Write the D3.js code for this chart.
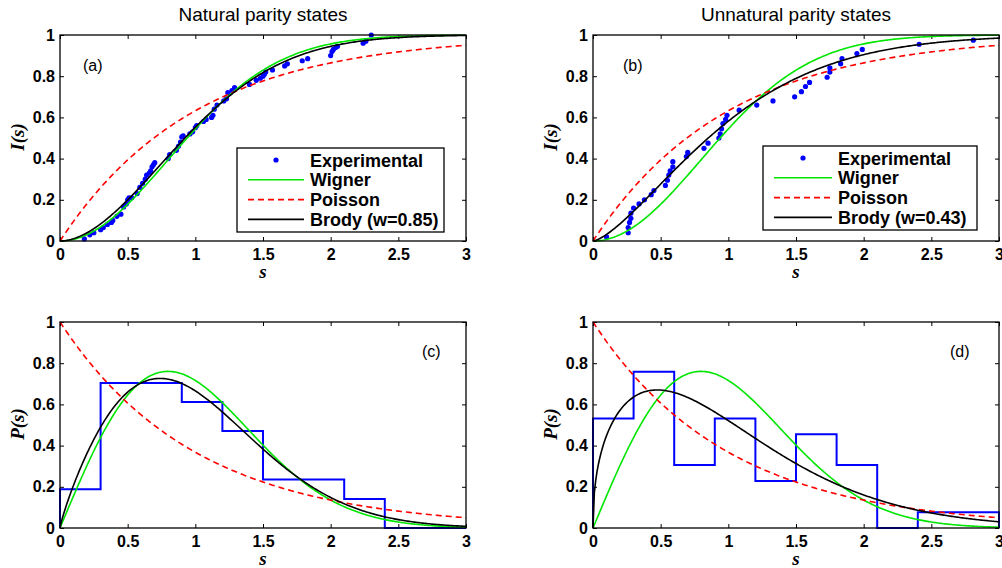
<!DOCTYPE html>
<html lang="en">
<head>
<meta charset="UTF-8">
<title>Level spacing distributions</title>
<style>
    body, html { margin: 0; padding: 0; background: #fff; overflow: hidden; }
    svg { display: block; }
    .tick text { font: bold 16px "Liberation Sans", Arial, sans-serif; fill: #000; }
    .tick line { stroke: #000; stroke-width: 1; }
    .frame { fill: none; stroke: #000; stroke-width: 1.3px; }
    .title { font: 19px "Liberation Sans", Arial, sans-serif; }
    .tag { font: 16px "Liberation Sans", Arial, sans-serif; }
    .axlabel { font: bold italic 19px "Liberation Serif", "Times New Roman", serif; }
    .legend text { font: bold 18px "Liberation Sans", Arial, sans-serif; }
</style>
</head>
<body>
<script src="https://cdnjs.cloudflare.com/ajax/libs/d3/7.8.5/d3.min.js"></script>
<script>
// ---- data ----
const xTicks = [0, 0.5, 1, 1.5, 2, 2.5, 3];
const yTicks = [0, 0.2, 0.4, 0.6, 0.8, 1];
const legendNames = ["Experimental", "Wigner", "Poisson"];

// Brody parameters fitted in each panel
const brodyNatural = 0.85;
const brodyUnnatural = 0.43;

// cumulative experimental spacings, natural parity (s, I)
const natS = [0.18, 0.22, 0.25, 0.30, 0.32, 0.35, 0.38, 0.39, 0.42, 0.45, 0.47, 0.49, 0.50, 0.51, 0.53,
    0.57, 0.59, 0.61, 0.63, 0.64, 0.66, 0.67, 0.68, 0.69, 0.70, 0.80, 0.81, 0.86, 0.875, 0.89, 0.90,
    0.91, 0.96, 0.98, 1.00, 1.01, 1.06, 1.08, 1.12, 1.13, 1.14, 1.16, 1.21, 1.23, 1.24, 1.27, 1.29,
    1.40, 1.45, 1.48, 1.50, 1.51, 1.52, 1.57, 1.66, 1.68, 1.79, 1.83, 2.00, 2.01, 2.02, 2.04, 2.05,
    2.24, 2.26, 2.30];
const natI = [0.01, 0.03, 0.04, 0.055, 0.065, 0.08, 0.09, 0.10, 0.12, 0.13, 0.165, 0.18, 0.20, 0.21, 0.21,
    0.23, 0.26, 0.28, 0.30, 0.32, 0.33, 0.34, 0.36, 0.37, 0.38, 0.40, 0.42, 0.44, 0.46, 0.48, 0.505,
    0.51, 0.52, 0.53, 0.55, 0.56, 0.58, 0.59, 0.60, 0.61, 0.64, 0.66, 0.68, 0.69, 0.72, 0.73, 0.745,
    0.76, 0.78, 0.79, 0.80, 0.81, 0.82, 0.83, 0.85, 0.86, 0.875, 0.885, 0.90, 0.92, 0.93, 0.94, 0.945,
    0.96, 0.97, 1.00];

// cumulative experimental spacings, unnatural parity (s, I)
const unnS = [0.10, 0.26, 0.26, 0.27, 0.28, 0.28, 0.30, 0.34, 0.38, 0.43, 0.45, 0.535, 0.55, 0.56, 0.57,
    0.59, 0.59, 0.69, 0.70, 0.82, 0.85, 0.93, 0.94, 0.95, 0.96, 0.98, 0.99, 1.08, 1.21, 1.33, 1.49,
    1.54, 1.57, 1.60, 1.73, 1.75, 1.75, 1.83, 1.84, 1.95, 1.99, 2.41, 2.81];
const unnI = [0.02, 0.04, 0.065, 0.09, 0.11, 0.135, 0.16, 0.18, 0.20, 0.225, 0.245, 0.27, 0.295, 0.32, 0.34,
    0.36, 0.385, 0.41, 0.43, 0.45, 0.475, 0.50, 0.52, 0.545, 0.57, 0.59, 0.61, 0.635, 0.66, 0.68, 0.70,
    0.725, 0.75, 0.77, 0.795, 0.82, 0.84, 0.86, 0.885, 0.91, 0.93, 0.955, 0.975];

// histogram of spacings, bins of width 0.3 from 0 to 3
const binEdges = [0, 0.3, 0.6, 0.9, 1.2, 1.5, 1.8, 2.1, 2.4, 2.7, 3.0];
const natHist = [0.188, 0.704, 0.704, 0.612, 0.471, 0.235, 0.235, 0.141, 0, 0];
const unnHist = [0.532, 0.759, 0.306, 0.532, 0.228, 0.455, 0.306, 0, 0.076, 0.076];

// ---- theory curves ----
function gamma(z) {
    // Lanczos approximation
    const g = 7;
    const c = [0.99999999999980993, 676.5203681218851, -1259.1392167224028, 771.32342877765313,
        -176.61502916214059, 12.507343278686905, -0.13857109526572012, 9.9843695780195716e-6,
        1.5056327351493116e-7];
    if (z < 0.5) return Math.PI / (Math.sin(Math.PI * z) * gamma(1 - z));
    z -= 1;
    let a = c[0];
    const t = z + g + 0.5;
    for (let i = 1; i < g + 2; i++) a += c[i] / (z + i);
    return Math.sqrt(2 * Math.PI) * Math.pow(t, z + 0.5) * Math.exp(-t) * a;
}
const brodyB = w => Math.pow(gamma((w + 2) / (w + 1)), w + 1);

const wignerP = s => Math.PI / 2 * s * Math.exp(-Math.PI * s * s / 4);
const wignerI = s => 1 - Math.exp(-Math.PI * s * s / 4);
const poissonP = s => Math.exp(-s);
const poissonI = s => 1 - Math.exp(-s);
const brodyP = w => s => (w + 1) * brodyB(w) * Math.pow(s, w) * Math.exp(-brodyB(w) * Math.pow(s, w + 1));
const brodyI = w => s => 1 - Math.exp(-brodyB(w) * Math.pow(s, w + 1));

const sGrid = d3.range(0, 301).map(i => i / 100);

// ---- layout ----
const W = 1002, H = 568;
const pw = 406, ph = 206;

const svg = d3.select("body").append("svg").attr("width", W).attr("height", H);

const x = d3.scaleLinear().domain([0, 3]).range([0, pw]);
const y = d3.scaleLinear().domain([0, 1]).range([ph, 0]);
const line = d3.line().x(d => x(d[0])).y(d => y(d[1]));

function curve(g, f, color, dash) {
    g.append("path")
        .datum(sGrid.map(s => [s, f(s)]))
        .attr("d", line)
        .attr("fill", "none")
        .attr("stroke", color)
        .attr("stroke-width", 1.6)
        .attr("stroke-dasharray", dash || null);
}

function panel(left, top, ylab, tag, tagX, tagY) {
    const g = svg.append("g").attr("transform", `translate(${left},${top})`);

    g.append("g").attr("transform", `translate(0,${ph})`)
        .call(d3.axisBottom(x).tickValues(xTicks).tickSize(-4).tickPadding(7.5).tickFormat(d3.format("")))
        .call(a => a.select(".domain").remove());
    g.append("g")
        .call(d3.axisTop(x).tickValues(xTicks).tickSize(-4).tickFormat(""))
        .call(a => a.select(".domain").remove());
    g.append("g")
        .call(d3.axisLeft(y).tickValues(yTicks).tickSize(-4).tickPadding(5).tickFormat(d3.format("")))
        .call(a => a.select(".domain").remove());
    g.append("g").attr("transform", `translate(${pw},0)`)
        .call(d3.axisRight(y).tickValues(yTicks).tickSize(-4).tickFormat(""))
        .call(a => a.select(".domain").remove());

    g.append("text").attr("class", "axlabel")
        .attr("x", pw / 2).attr("y", ph + 36.5).attr("text-anchor", "middle").text("s");
    g.append("text").attr("class", "axlabel")
        .attr("transform", `translate(${-36},${ph / 2 - 1}) rotate(-90)`)
        .attr("text-anchor", "middle").text(ylab);

    g.append("text").attr("class", "tag").attr("x", tagX).attr("y", tagY).text(tag);

    const plot = g.append("g");
    g.append("rect").attr("class", "frame").attr("width", pw).attr("height", ph);
    return plot;
}

function cumulative(plot, sArr, iArr, w) {
    plot.selectAll("circle.pt").data(sArr).join("circle")
        .attr("class", "pt")
        .attr("cx", d => x(d))
        .attr("cy", (d, i) => y(iArr[i]))
        .attr("r", 2.6)
        .attr("fill", "#0000ff");
    curve(plot, wignerI, "#00e600");
    curve(plot, poissonI, "#ff0000", "6,4");
    curve(plot, brodyI(w), "#000000");
}

function histogram(plot, hist, w) {
    const pts = [[0, 0]];
    hist.forEach((h, i) => { pts.push([binEdges[i], h]); pts.push([binEdges[i + 1], h]); });
    pts.push([3, 0]);
    plot.append("path").datum(pts).attr("d", line)
        .attr("fill", "none").attr("stroke", "#0000ff").attr("stroke-width", 2);
    curve(plot, wignerP, "#00e600");
    curve(plot, poissonP, "#ff0000", "6,4");
    curve(plot, brodyP(w), "#000000");
}

function legend(left, top, w, lineX0, lineX1, textX, rows) {
    const lg = svg.append("g").attr("class", "legend").attr("transform", `translate(${left},${top})`);
    lg.append("rect").attr("width", w).attr("height", 84)
        .attr("fill", "#fff").attr("stroke", "#000").attr("stroke-width", 1.3);
    const names = legendNames.concat([`Brody (w=${rows})`]);
    const styles = [null, ["#00e600", null], ["#ff0000", "6,4"], ["#000", null]];
    names.forEach((n, i) => {
        const cy = 12 + i * 19.8;
        if (i === 0) {
            lg.append("circle").attr("cx", (lineX0 + lineX1) / 2).attr("cy", cy).attr("r", 2.6).attr("fill", "#0000ff");
        } else {
            lg.append("line").attr("x1", lineX0).attr("x2", lineX1).attr("y1", cy).attr("y2", cy)
                .attr("stroke", styles[i][0]).attr("stroke-width", 1.6)
                .attr("stroke-dasharray", styles[i][1]);
        }
        lg.append("text").attr("x", textX).attr("y", cy + 6.5).text(n);
    });
}

// titles
svg.append("text").attr("class", "title").attr("x", 263).attr("y", 21).attr("text-anchor", "middle")
    .text("Natural parity states");
svg.append("text").attr("class", "title").attr("x", 796).attr("y", 21).attr("text-anchor", "middle")
    .text("Unnatural parity states");

const pa = panel(60, 35, "I(s)", "(a)", 23, 36);
cumulative(pa, natS, natI, brodyNatural);
legend(237, 148, 207, 11, 67, 73, brodyNatural);

const pb = panel(593, 35, "I(s)", "(b)", 30, 36);
cumulative(pb, unnS, unnI, brodyUnnatural);
legend(763, 146, 214, 11, 69, 75, brodyUnnatural);

const pc = panel(60, 322, "P(s)", "(c)", 362, 35);
histogram(pc, natHist, brodyNatural);

const pd = panel(593, 322, "P(s)", "(d)", 357, 35);
histogram(pd, unnHist, brodyUnnatural);
</script>
</body>
</html>
